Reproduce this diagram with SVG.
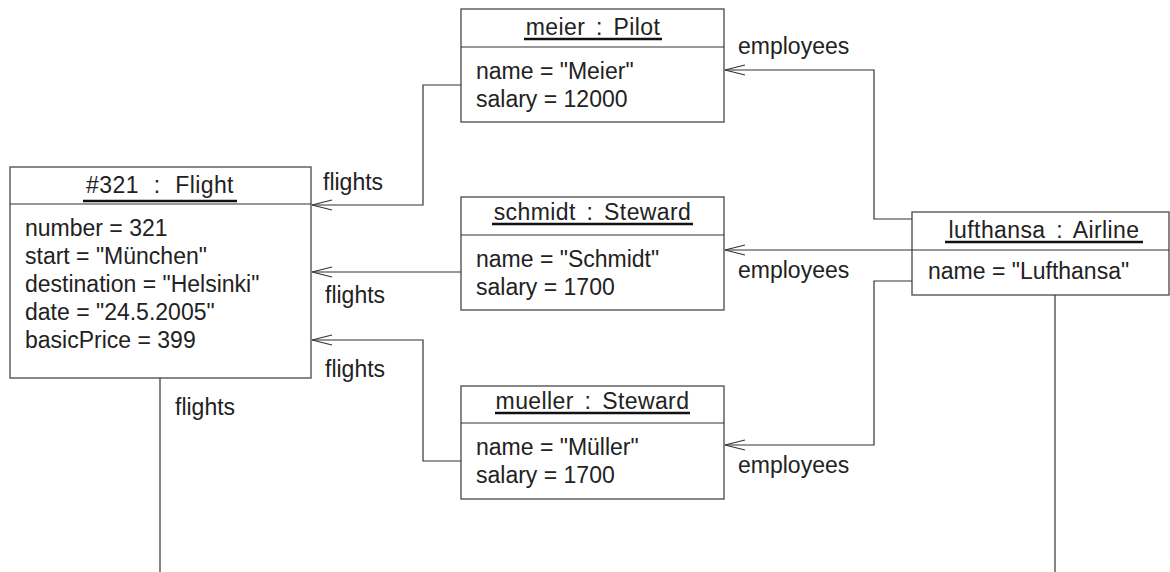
<svg xmlns="http://www.w3.org/2000/svg" width="1170" height="572" viewBox="0 0 1170 572">
<defs>
<style>
.box{fill:#fff;stroke:#555;stroke-width:1.4}
.div{stroke:#333;stroke-width:1.2}
.ul{stroke:#111;stroke-width:2.6}
text{font-family:"Liberation Sans",Arial,sans-serif;font-size:23px;fill:#222}
.hd{text-anchor:middle;word-spacing:4px;letter-spacing:0.4px}
.con{fill:none;stroke:#333;stroke-width:1.2}
</style>
<marker id="open" markerWidth="22" markerHeight="12" refX="21" refY="6" orient="auto" markerUnits="userSpaceOnUse" viewBox="0 0 22 12" overflow="visible">
<path d="M1,1 L21,6 L1,11" fill="none" stroke="#333" stroke-width="1.2"/>
</marker>
</defs>
<rect width="1170" height="572" fill="#fff"/>
<g id="flight">
<rect class="box" x="10" y="167" width="301" height="211"/>
<line class="div" x1="10" y1="204" x2="311" y2="204"/>
<text class="hd" x="160" y="193" style="word-spacing:8px">#321 : Flight</text>
<line class="ul" x1="83" y1="201" x2="237" y2="201"/>
<text x="25" y="236">number = 321</text>
<text x="25" y="264">start = "München"</text>
<text x="25" y="292">destination = "Helsinki"</text>
<text x="25" y="320">date = "24.5.2005"</text>
<text x="25" y="348">basicPrice = 399</text>
</g>
<g id="meier">
<rect class="box" x="461" y="9" width="263" height="113"/>
<line class="div" x1="461" y1="47" x2="724" y2="47"/>
<text class="hd" x="593" y="35">meier : Pilot</text>
<line class="ul" x1="524" y1="39" x2="662" y2="39"/>
<text x="476" y="79">name = "Meier"</text>
<text x="476" y="107">salary = 12000</text>
</g>
<g id="schmidt">
<rect class="box" x="461" y="197" width="263" height="113"/>
<line class="div" x1="461" y1="235" x2="724" y2="235"/>
<text class="hd" x="592.5" y="220">schmidt : Steward</text>
<line class="ul" x1="492" y1="224" x2="693" y2="224"/>
<text x="476" y="267">name = "Schmidt"</text>
<text x="476" y="295">salary = 1700</text>
</g>
<g id="mueller">
<rect class="box" x="461" y="386" width="263" height="113"/>
<line class="div" x1="461" y1="423" x2="724" y2="423"/>
<text class="hd" x="592.5" y="409">mueller : Steward</text>
<line class="ul" x1="495" y1="413" x2="690" y2="413"/>
<text x="476" y="455">name = "Müller"</text>
<text x="476" y="483">salary = 1700</text>
</g>
<g id="lufthansa">
<rect class="box" x="912" y="212" width="257" height="83"/>
<line class="div" x1="912" y1="250" x2="1169" y2="250"/>
<text class="hd" x="1044" y="238">lufthansa : Airline</text>
<line class="ul" x1="945" y1="242" x2="1143" y2="242"/>
<text x="928" y="279">name = "Lufthansa"</text>
</g>
<g id="connectors">
<path class="con" d="M461,85 H423 V205 H312" marker-end="url(#open)"/>
<path class="con" d="M912,219 H874 V70 H725" marker-end="url(#open)"/>
<path class="con" d="M461,272 H312" marker-end="url(#open)"/>
<path class="con" d="M912,250 H725" marker-end="url(#open)"/>
<path class="con" d="M461,461 H423 V340 H312" marker-end="url(#open)"/>
<path class="con" d="M912,281 H874 V445 H725" marker-end="url(#open)"/>
<path class="con" d="M160,378 V572"/>
<path class="con" d="M1055,295 V572"/>
<text x="323" y="190">flights</text>
<text x="325" y="303">flights</text>
<text x="325" y="377">flights</text>
<text x="175" y="415">flights</text>
<text x="738" y="54">employees</text>
<text x="738" y="278">employees</text>
<text x="738" y="473">employees</text>
</g>
</svg>
